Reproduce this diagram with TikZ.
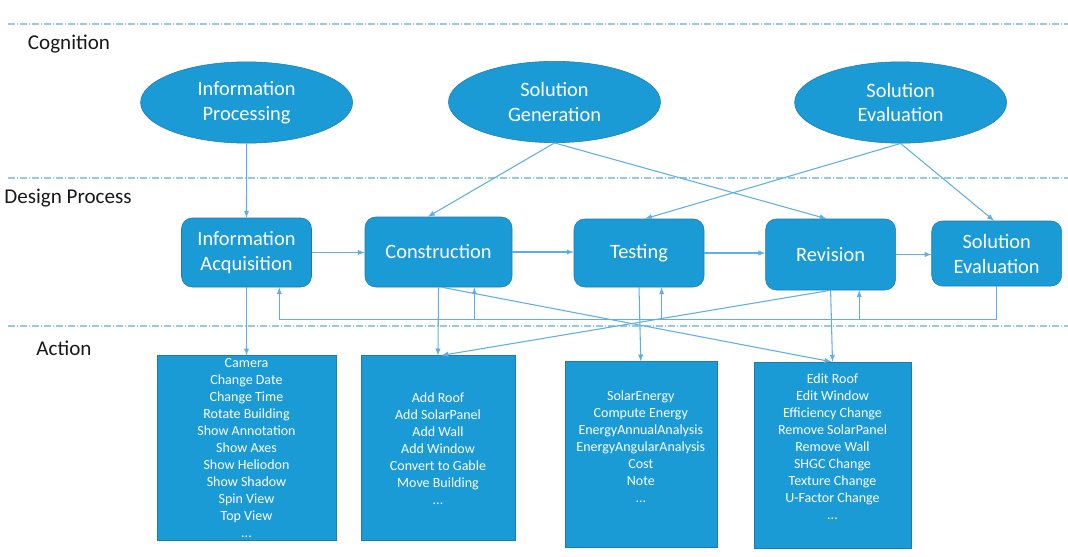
\documentclass[tikz,border=0pt]{standalone}
\usepackage{fontspec}
\setmainfont{Carlito}
\usepackage{xcolor}
\usetikzlibrary{shapes.geometric}
\definecolor{boxblue}{RGB}{26,155,214}
\definecolor{edgeblue}{RGB}{32,122,172}
\definecolor{arrowblue}{RGB}{95,175,228}
\definecolor{dashblue}{RGB}{150,200,232}
\definecolor{labeltext}{RGB}{25,25,25}
\tikzstyle{thought}=[ellipse, draw=edgeblue, fill=boxblue, text=white, minimum width=159pt, minimum height=61pt, inner sep=0pt, align=center, font=\fontsize{15.3}{18.5}\selectfont]
\tikzstyle{stage}=[rectangle, rounded corners=8pt, draw=edgeblue, fill=boxblue, text=white, inner sep=0pt, align=center, font=\fontsize{15.3}{18.75}\selectfont]
\tikzstyle{actions}=[rectangle, draw=edgeblue, fill=boxblue, text=white, inner sep=0pt, align=center, font=\fontsize{10.5}{12.75}\selectfont]
\tikzstyle{flow}=[-latex, line width=.8pt, color=arrowblue]
\tikzstyle{divider}=[line width=.9pt, color=dashblue, dash pattern=on 5pt off 1.5pt on 1pt off 1.5pt]
\tikzstyle{layername}=[text=labeltext, font=\fontsize{15.8}{18}\selectfont]

\begin{document}
\begin{tikzpicture}[x=0.75pt,y=-0.75pt]
  \useasboundingbox (0,0) rectangle (1068,557);

  %% Layers
  \draw[divider] (8,24) -- (1068,24);
  \draw[divider] (8,178) -- (1068,178);
  \draw[divider] (8,326) -- (1068,326);
  \draw (69,44) node[layername] (cog) {Cognition};
  \draw (68,198) node[layername] (des) {Design Process};
  \draw (64,348) node[layername] (act) {Action};

  %% Cognition
  \draw (246.6,102.5) node[thought] (IP) {Information\\Processing};
  \draw (554.5,102) node[thought] (SG) {Solution\\Generation};
  \draw (900.6,102.5) node[thought] (SE) {Solution\\Evaluation};

  %% Design process
  \draw (246.5,252.5) node[stage,minimum width=97.5pt,minimum height=51.75pt] (IA) {Information\\Acquisition};
  \draw (438.5,252) node[stage,minimum width=110.25pt,minimum height=52.5pt] (Con) {Construction};
  \draw (639,253) node[stage,minimum width=97.5pt,minimum height=51pt] (Tst) {Testing};
  \draw (830.6,254.5) node[stage,minimum width=97.5pt,minimum height=53.25pt] (Rev) {Revision};
  \draw (996.7,253.5) node[stage,minimum width=97.5pt,minimum height=48.75pt] (SEv) {Solution\\Evaluation};

  %% Actions
  \draw (246.5,448.2) node[actions,minimum width=134.25pt,minimum height=138.75pt] (A1) {Camera\\Change Date\\Change Time\\Rotate Building\\Show Annotation\\Show Axes\\Show Heliodon\\Show Shadow\\Spin View\\Top View\\...};
  \draw (438,448.2) node[actions,minimum width=115.5pt,minimum height=138.75pt] (A2) {Add Roof\\Add SolarPanel\\Add Wall\\Add Window\\Convert to Gable\\Move Building\\...};
  \draw (640.8,454.7) node[actions,minimum width=114pt,minimum height=139.5pt] (A3) {SolarEnergy\\Compute Energy\\EnergyAnnualAnalysis\\EnergyAngularAnalysis\\Cost\\Note\\...\\ \mbox{}};
  \draw (832.5,455) node[actions,minimum width=117.75pt,minimum height=139.5pt] (A4) {Edit Roof\\Edit Window\\Efficiency Change\\Remove SolarPanel\\Remove Wall\\SHGC Change\\Texture Change\\U-Factor Change\\...\\ \mbox{}};

  %% Cognition to design process
  \draw[flow] (IP.south) -- (IA.north);
  \draw[flow] (SG.south) -- ([xshift=-8pt]Con.north);
  \draw[flow] (SG.south) -- ([xshift=-3pt]Rev.north);
  \draw[flow] (SE.south) -- ([xshift=4.5pt]Tst.north);
  \draw[flow] (SE.south) -- ([xshift=-2pt]SEv.north);

  %% Process chain
  \draw[flow] (IA.east) -- (IA.east -| Con.west);
  \draw[flow] (Con.east) -- (Con.east -| Tst.west);
  \draw[flow] (Tst.east) -- (Tst.east -| Rev.west);
  \draw[flow] (Rev.east) -- (Rev.east -| SEv.west);

  %% Feedback
  \coordinate (fbIA) at ([xshift=24.6pt]IA.south);
  \coordinate (fbCon) at ([xshift=26.85pt]Con.south);
  \coordinate (fbTst) at ([xshift=17pt]Tst.south);
  \coordinate (fbRev) at ([xshift=21.5pt]Rev.south);
  \draw[flow] (SEv.south) -- ++(0,33) coordinate (fbCorner) -| (fbIA);
  \draw[flow] (fbCorner -| fbCon) -- (fbCon);
  \draw[flow] (fbCorner -| fbTst) -- (fbTst);
  \draw[flow] (fbCorner -| fbRev) -- (fbRev);

  %% Design process to actions
  \draw[flow] (IA.south) -- (A1.north);
  \draw[flow] (Con.south) -- (A2.north);
  \draw[flow] (Tst.south) -- (A3.north);
  \draw[flow] (Rev.south) -- (A4.north);
  \draw[flow] ([xshift=2.5pt]Con.south) -- ([xshift=-0.8pt]A4.north);
  \draw[flow] (Rev.south) -- ([xshift=2.5pt]A2.north);
\end{tikzpicture}
\end{document}
